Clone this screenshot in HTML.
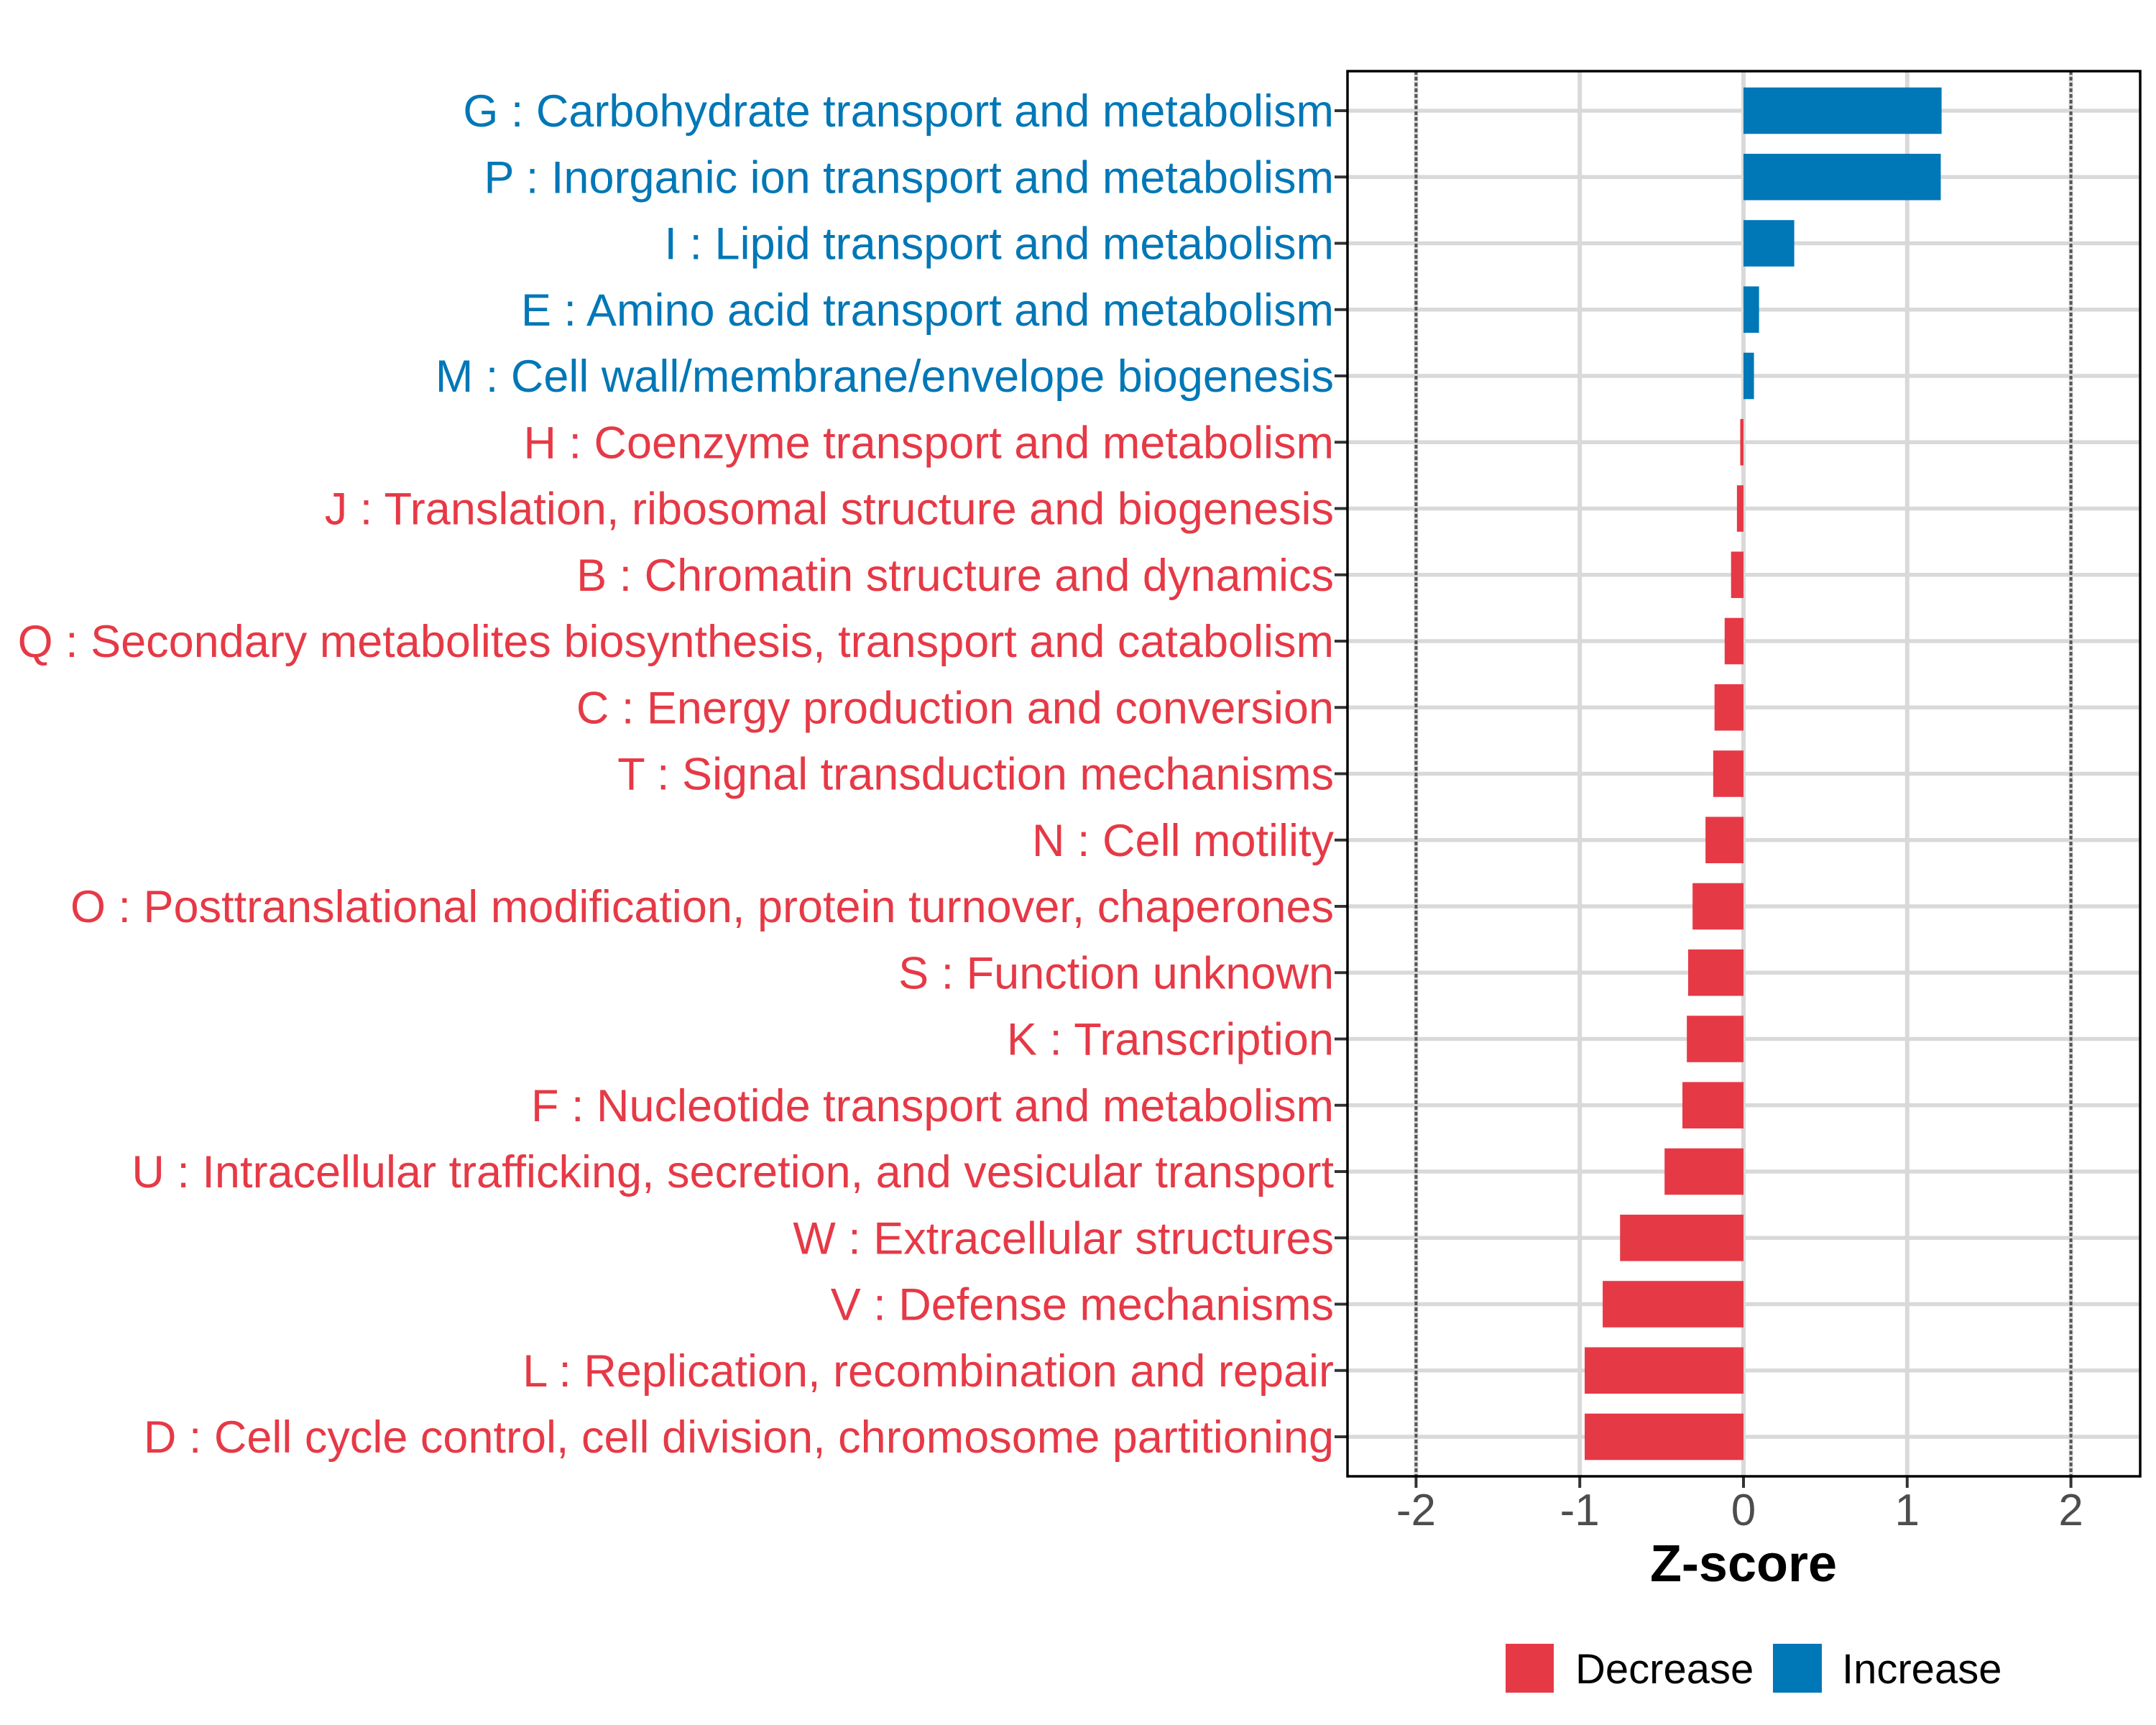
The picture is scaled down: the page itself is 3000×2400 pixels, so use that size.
<!DOCTYPE html>
<html><head><meta charset="utf-8"><style>
html,body{margin:0;padding:0;background:#fff;}
svg{display:block;font-family:"Liberation Sans",Arial,sans-serif;}
</style></head><body>
<svg id="chart" width="3000" height="2400" viewBox="0 0 3000 2400" xmlns="http://www.w3.org/2000/svg">
<rect width="3000" height="2400" fill="#fff"/>
<g id="grid"></g>
<g id="bars"></g>
<g id="ylabels"></g>
<g id="xaxis"></g>
<rect x="1875" y="99" width="1103" height="1955" fill="none" stroke="#000" stroke-width="3.5"/>
<text x="2426" y="2200" text-anchor="middle" font-size="72" font-weight="bold" fill="#000">Z-score</text>
<g>
<rect x="2095" y="2287" width="67" height="68" fill="#E63946"/>
<text x="2192" y="2342" font-size="58" fill="#000">Decrease</text>
<rect x="2467" y="2287" width="68" height="68" fill="#0077B6"/>
<text x="2563" y="2342" font-size="58" fill="#000">Increase</text>
</g>
</svg>
<script>
const categories = [
"G : Carbohydrate transport and metabolism",
"P : Inorganic ion transport and metabolism",
"I : Lipid transport and metabolism",
"E : Amino acid transport and metabolism",
"M : Cell wall/membrane/envelope biogenesis",
"H : Coenzyme transport and metabolism",
"J : Translation, ribosomal structure and biogenesis",
"B : Chromatin structure and dynamics",
"Q : Secondary metabolites biosynthesis, transport and catabolism",
"C : Energy production and conversion",
"T : Signal transduction mechanisms",
"N : Cell motility",
"O : Posttranslational modification, protein turnover, chaperones",
"S : Function unknown",
"K : Transcription",
"F : Nucleotide transport and metabolism",
"U : Intracellular trafficking, secretion, and vesicular transport",
"W : Extracellular structures",
"V : Defense mechanisms",
"L : Replication, recombination and repair",
"D : Cell cycle control, cell division, chromosome partitioning"
];
const zscores = [1.21,1.205,0.31,0.095,0.064,-0.02,-0.04,-0.076,-0.115,-0.177,-0.185,-0.232,-0.311,-0.338,-0.346,-0.373,-0.482,-0.754,-0.86,-0.97,-0.97];
const xTicks = [-2,-1,0,1,2];
const xTickLabels = ["-2","-1","0","1","2"];
const thresholds = [-2,2];

const NS="http://www.w3.org/2000/svg";
const X0=2426, UNIT=227.8, ROW0=154, STEP=92.25, PL=1875, PR=2978, PT=99, PB=2054;
const xs = v => X0 + v*UNIT;
const ys = i => ROW0 + i*STEP;
const RED="#E63946", BLUE="#0077B6";
function mk(tag, attrs, parent){const e=document.createElementNS(NS,tag);for(const k in attrs)e.setAttribute(k,attrs[k]);parent.appendChild(e);return e;}
const grid=document.getElementById('grid'), bars=document.getElementById('bars'), yl=document.getElementById('ylabels'), xa=document.getElementById('xaxis');

xTicks.forEach((t,i)=>{
  const l=mk('line',{x1:xs(t),x2:xs(t),y1:PT,y2:PB,stroke:'#d9d9d9','stroke-width':6},grid);
  
  
  const tk=mk('line',{x1:xs(t),x2:xs(t),y1:PB,y2:PB+16,stroke:'#333','stroke-width':4},xa);
  
  
  const tx=mk('text',{x:xs(t),y:2122,'text-anchor':'middle','font-size':62,fill:'#4d4d4d'},xa);
  tx.textContent=xTickLabels[i];
  
  
});
categories.forEach((c,i)=>{
  const l=mk('line',{x1:PL,x2:PR,y1:ys(i),y2:ys(i),stroke:'#d9d9d9','stroke-width':5.5},grid);
  
  
});
thresholds.forEach(t=>{
  const l=mk('line',{x1:xs(t),x2:xs(t),y1:PT,y2:PB,stroke:'#555','stroke-width':4,'stroke-dasharray':'5 3'},grid);
  
  
});
categories.forEach((c,i)=>{
  const v=zscores[i], col=v>=0?BLUE:RED;
  const x1=Math.min(xs(0),xs(v)), w=Math.max(Math.abs(xs(v)-xs(0)),1);
  const r=mk('rect',{x:x1,y:ys(i)-STEP*0.35,width:w,height:STEP*0.7,fill:col},bars);
  
  
  const tk=mk('line',{x1:PL-18,x2:PL,y1:ys(i),y2:ys(i),stroke:'#333','stroke-width':4},yl);
  
  
  const t=mk('text',{x:1856,y:ys(i)+22,'text-anchor':'end','font-size':63,fill:col},yl);
  t.textContent=c;
  
  
});
</script>
</body></html>
